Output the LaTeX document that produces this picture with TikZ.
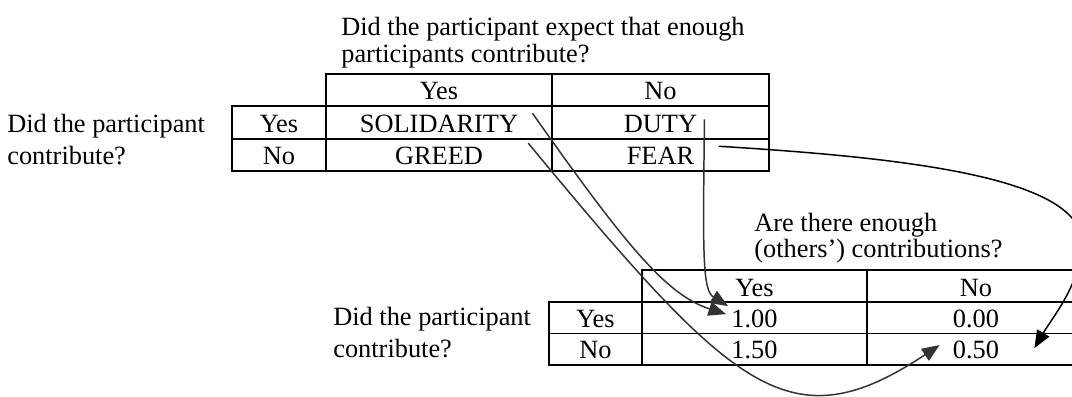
\documentclass[tikz,border=0pt]{standalone}
\usepackage{fontspec}
\setmainfont{Liberation Serif}
\usetikzlibrary{arrows.meta,calc}

\begin{document}
\begin{tikzpicture}[
  x=0.02cm, y=-0.02cm,
  font=\fontsize{15}{14.8}\selectfont,
  tbl/.style  = {line width=1.1pt},
  cell/.style = {anchor=base, inner sep=0pt},
  lbl/.style  = {anchor=base west, align=left, inner sep=0pt},
  ar/.style   = {-{Triangle[length=10pt,width=8pt]}, line width=0.85pt, black!80}
]
\useasboundingbox (0,0) rectangle (1072,396);

% ---------- upper table: expectation x contribution ----------------
\node[lbl] (qtop) at (341,62) {Did the participant expect that enough\\participants contribute?};
\node[lbl] (ctop) at (7,164) {Did the participant\\[3.4pt]contribute?};

\draw[tbl] (326,74) rectangle (769,171);
\draw[tbl] (232,106) rectangle (326,171);
\foreach \y in {106,139} \draw[tbl] (232,\y) -- (769,\y);
\draw[tbl] (552,74) -- (552,171);

\node[cell] (hy1)   at (439,99.5)  {Yes};
\node[cell] (hn1)   at (660.5,99.5) {No};
\node[cell] (ry1)   at (279,132)   {Yes};
\node[cell] (rn1)   at (279,164)   {No};
\node[cell] (sol)   at (439,132)   {SOLIDARITY};
\node[cell] (duty)  at (660.5,132) {DUTY};
\node[cell] (greed) at (439,164)   {GREED};
\node[cell] (fear)  at (660.5,164) {FEAR};

% ---------- lower table: payoffs ------------------------------------
\node[lbl] (qbot) at (754,257) {Are there enough\\(others’) contributions?};
\node[lbl] (cbot) at (333,357) {Did the participant\\[3.4pt]contribute?};

\draw[tbl] (642,270) rectangle (1085,365);
\draw[tbl] (549,302) rectangle (642,365);
\foreach \y in {302,333.5} \draw[tbl] (549,\y) -- (1085,\y);
\draw[tbl] (867,270) -- (867,365);

\node[cell] (hy2) at (754.5,296) {Yes};
\node[cell] (hn2) at (976,296)   {No};
\node[cell] (ry2) at (595.5,327) {Yes};
\node[cell] (rn2) at (595.5,358) {No};
\node[cell] (v11) at (754.5,327) {1.00};
\node[cell] (v12) at (976,327)   {0.00};
\node[cell] (v21) at (754.5,358) {1.50};
\node[cell] (v22) at (976,358)   {0.50};

% ---------- mapping arrows -------------------------------------------
\draw[ar] ($(sol.north east)+(14,-1)$) .. controls (624,243) and (666,295) .. ($(v11.north west)+(-5,5)$);
\draw[ar] ($(duty.north east)+(7,5)$) .. controls (703,250) and (702,290) .. ($(v11.north west)+(-3,-3)$);
\draw[ar] ($(greed.north east)+(45,-3)$) .. controls (735,393) and (790,444) .. ($(v22.north west)+(-13,5)$);
\draw[ar, black] ($(fear.north east)+(24,0)$) .. controls (910,158) and (1085,178) .. (1082,245)
  .. controls (1080,285) and (1052,318) .. ($(v22.north east)+(35,8)$);

\end{tikzpicture}
\end{document}
